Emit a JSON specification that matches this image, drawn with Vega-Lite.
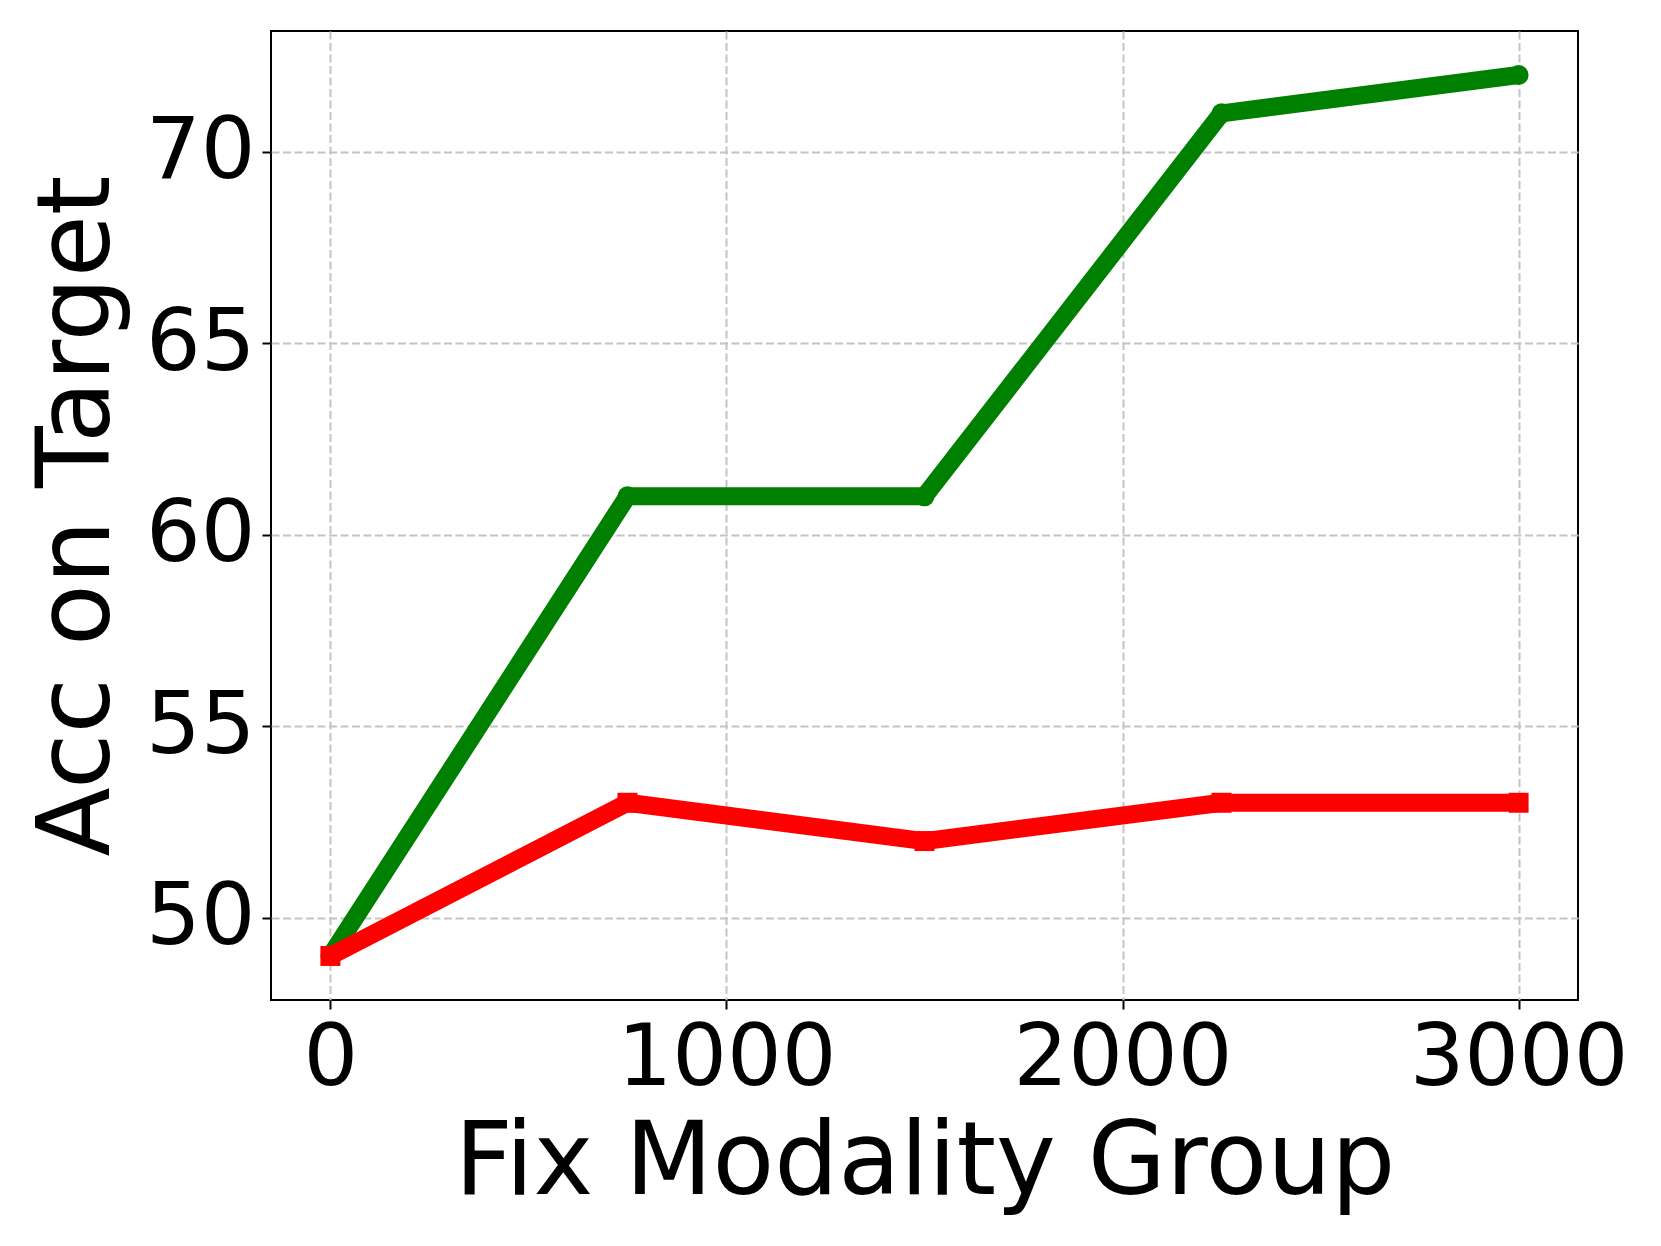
{
  "$schema": "https://vega.github.io/schema/vega-lite/v6.json",
  "width": 1307,
  "height": 969,
  "autosize": "none",
  "padding": {"left": 271, "top": 31, "right": 83, "bottom": 246},
  "background": "white",
  "config": {
    "view": {"stroke": "black", "strokeWidth": 2},
    "font": "DejaVu Sans",
    "axis": {
      "domain": false,
      "grid": true,
      "gridColor": "#c4c4c4",
      "gridWidth": 2,
      "gridDash": [8, 3.5],
      "ticks": true,
      "tickColor": "black",
      "tickWidth": 2,
      "tickSize": 9,
      "labelFont": "DejaVu Sans",
      "labelFontSize": 86,
      "labelColor": "black",
      "labelLimit": 0,
      "titleFont": "DejaVu Sans",
      "titleFontSize": 101,
      "titleFontWeight": "normal",
      "titleColor": "black",
      "titleLimit": 0
    }
  },
  "data": {
    "values": [
      {"group": 0, "acc": 49, "series": "green"},
      {"group": 750, "acc": 61, "series": "green"},
      {"group": 1500, "acc": 61, "series": "green"},
      {"group": 2250, "acc": 71, "series": "green"},
      {"group": 3000, "acc": 72, "series": "green"},
      {"group": 0, "acc": 49, "series": "red"},
      {"group": 750, "acc": 53, "series": "red"},
      {"group": 1500, "acc": 52, "series": "red"},
      {"group": 2250, "acc": 53, "series": "red"},
      {"group": 3000, "acc": 53, "series": "red"}
    ]
  },
  "encoding": {
    "x": {
      "field": "group",
      "type": "quantitative",
      "scale": {"domain": [-150, 3150], "nice": false, "zero": false},
      "axis": {
        "values": [0, 1000, 2000, 3000],
        "format": "d",
        "title": "Fix Modality Group",
        "labelPadding": 7,
        "labelFlush": false,
        "labelOverlap": false,
        "titleBaseline": "alphabetic",
        "titleY": 193,
        "titleX": 653.5
      }
    },
    "y": {
      "field": "acc",
      "type": "quantitative",
      "scale": {"domain": [47.85, 73.15], "nice": false, "zero": false},
      "axis": {
        "values": [50, 55, 60, 65, 70],
        "format": "d",
        "title": "Acc on Target",
        "labelPadding": 7,
        "labelFlush": false,
        "labelOverlap": false,
        "titleAngle": -90,
        "titleBaseline": "alphabetic",
        "titleAlign": "center",
        "titleX": -163,
        "titleY": 484.5
      }
    }
  },
  "layer": [
    {
      "transform": [{"filter": "datum.series === 'green'"}],
      "mark": {"type": "line", "color": "#008000", "strokeWidth": 18, "strokeCap": "butt", "strokeJoin": "round"}
    },
    {
      "transform": [{"filter": "datum.series === 'green'"}],
      "mark": {"type": "point", "shape": "circle", "filled": true, "color": "#008000", "opacity": 1, "size": 400}
    },
    {
      "transform": [{"filter": "datum.series === 'red'"}],
      "mark": {"type": "line", "color": "#ff0000", "strokeWidth": 18, "strokeCap": "butt", "strokeJoin": "round"}
    },
    {
      "transform": [{"filter": "datum.series === 'red'"}],
      "mark": {"type": "point", "shape": "square", "filled": true, "color": "#ff0000", "opacity": 1, "size": 400}
    }
  ]
}
